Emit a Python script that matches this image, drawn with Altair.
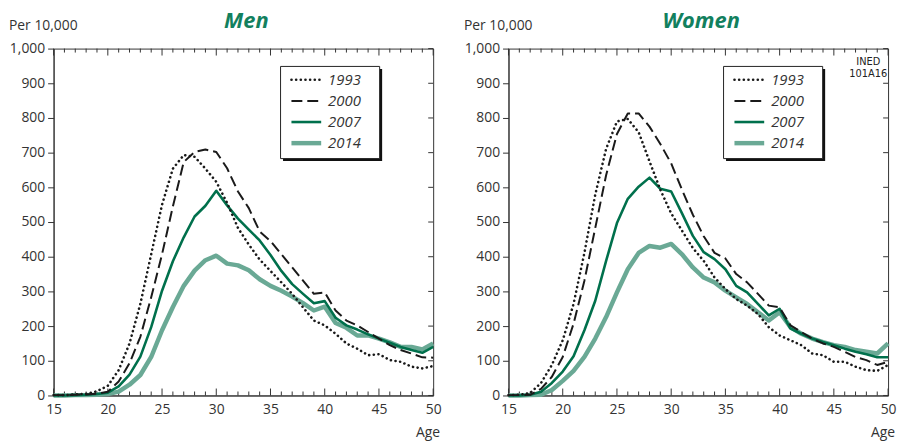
import altair as alt
import pandas as pd

# ---------------- data ----------------
AGES = list(range(15, 51))
YEARS = ["1993", "2000", "2007", "2014"]
PANELS = ["Men", "Women"]
Y_LABEL = "Per 10,000"
X_LABEL = "Age"
NOTE = "INED\n101A16"
X_TICK_LABELS = list(range(15, 51, 5))
Y_TICK_VALUES = list(range(0, 1001, 100))

MEN_1993 = [1, 1, 3, 5, 12, 28, 73, 150, 264, 407, 550, 654, 693, 688, 654, 616, 555, 483,
            435, 392, 359, 326, 293, 254, 216, 202, 178, 150, 135, 116, 119, 102, 97, 83, 78, 85]
MEN_2000 = [1, 1, 2, 3, 5, 11, 40, 93, 169, 283, 407, 545, 673, 702, 709, 702, 655, 588,
            540, 473, 445, 407, 369, 331, 293, 297, 245, 216, 202, 183, 164, 145, 131, 121, 110, 109]
MEN_2007 = [0, 0, 1, 2, 4, 8, 26, 60, 112, 197, 302, 387, 456, 516, 547, 590, 548, 510,
            478, 447, 405, 359, 321, 293, 266, 272, 224, 202, 190, 176, 164, 152, 140, 131, 123, 140]
MEN_2014 = [0, 0, 1, 1, 2, 4, 11, 31, 59, 111, 188, 255, 316, 360, 390, 403, 380, 375,
            361, 335, 316, 302, 285, 266, 245, 256, 209, 195, 173, 173, 164, 153, 140, 140, 133, 150]

WOMEN_1993 = [1, 2, 7, 36, 88, 159, 264, 411, 579, 711, 790, 797, 759, 675, 593, 525, 475, 425,
              388, 340, 307, 278, 259, 235, 197, 173, 159, 145, 121, 116, 97, 97, 83, 73, 71, 88]
WOMEN_2000 = [1, 1, 2, 19, 54, 111, 207, 331, 483, 635, 754, 813, 813, 775, 725, 669, 593, 521,
              459, 411, 395, 350, 326, 293, 259, 254, 202, 183, 164, 150, 140, 126, 111, 102, 88, 97]
WOMEN_2007 = [0, 0, 2, 11, 36, 69, 113, 188, 273, 388, 497, 567, 602, 628, 596, 588, 525, 460,
              413, 393, 364, 316, 297, 264, 231, 250, 193, 178, 164, 154, 145, 135, 126, 119, 110, 110]
WOMEN_2014 = [0, 0, 1, 2, 16, 42, 71, 111, 164, 226, 297, 364, 411, 431, 426, 437, 407, 369,
              340, 326, 302, 283, 264, 240, 216, 240, 197, 178, 164, 154, 145, 140, 131, 126, 121, 150]

SERIES = {
    "Men": {"1993": MEN_1993, "2000": MEN_2000, "2007": MEN_2007, "2014": MEN_2014},
    "Women": {"1993": WOMEN_1993, "2000": WOMEN_2000, "2007": WOMEN_2007, "2014": WOMEN_2014},
}

# ---------------- styles ----------------
W, H = 383, 350
FONT = "Open Sans"
AXIS_COLOR = "#333333"
TITLE_GREEN = "#12805e"
STYLE = {
    "1993": dict(color="#1a1a1a", strokeWidth=2.6, strokeDash=[0.1, 4.6], strokeCap="round"),
    "2000": dict(color="#1a1a1a", strokeWidth=2.0, strokeDash=[11, 5]),
    "2007": dict(color="#00704c", strokeWidth=2.6),
    "2014": dict(color="#6aa995", strokeWidth=4.5),
}
DRAW_ORDER = ["2014", "2007", "2000", "1993"]
LEGEND_X0 = {"Men": 229, "Women": 217}

xs = alt.Scale(domain=[15, 50], nice=False, zero=False)
ys = alt.Scale(domain=[0, 1000], nice=False)
xaxis = alt.Axis(values=X_TICK_LABELS, ticks=False, labelPadding=7, labelFontSize=14,
                 labelColor=AXIS_COLOR, labelFlush=False, grid=False, title=None,
                 domainColor=AXIS_COLOR, labelFont=FONT)
yaxis = alt.Axis(values=Y_TICK_VALUES, format=",d", tickSize=6, tickColor=AXIS_COLOR,
                 labelPadding=3, labelFontSize=14, labelColor=AXIS_COLOR, grid=False,
                 title=None, domainColor=AXIS_COLOR, labelFont=FONT,
                 minExtent=45, maxExtent=45)
X = alt.X("age:Q", scale=xs, axis=xaxis)
Y = alt.Y("rate:Q", scale=ys, axis=yaxis)


def panel(name):
    rows = []
    for yr, vals in SERIES[name].items():
        for a, v in zip(AGES, vals):
            rows.append({"age": a, "year": yr, "rate": v})
    df = pd.DataFrame(rows)
    layers = []

    # inward frame ticks
    tick_df = pd.DataFrame({"age": AGES})
    for top, y0 in ((False, H), (True, 0)):
        sgn = 1 if top else -1
        layers.append(alt.Chart(tick_df).transform_filter("datum.age % 5 != 0")
                      .mark_rule(color=AXIS_COLOR, strokeWidth=1)
                      .encode(x=X, y=alt.value(y0), y2=alt.value(y0 + sgn * 4)))
        layers.append(alt.Chart(tick_df).transform_filter("datum.age % 5 == 0")
                      .mark_rule(color=AXIS_COLOR, strokeWidth=1)
                      .encode(x=X, y=alt.value(y0), y2=alt.value(y0 + sgn * 7)))
    ytick_df = pd.DataFrame({"rate": Y_TICK_VALUES})
    layers.append(alt.Chart(ytick_df).mark_rule(color=AXIS_COLOR, strokeWidth=1)
                  .encode(y=Y, x=alt.value(W), x2=alt.value(W - 5)))

    # data lines
    for yr in DRAW_ORDER:
        layers.append(alt.Chart(df[df.year == yr]).mark_line(strokeJoin="round", **STYLE[yr])
                      .encode(x=X, y=Y))

    # legend
    x0 = LEGEND_X0[name]
    one = pd.DataFrame({"panel": [name]})
    layers.append(alt.Chart(one).mark_rect(fill="#111111")
                  .encode(x=alt.value(x0 + 2.5), x2=alt.value(x0 + 102.5),
                          y=alt.value(20.5), y2=alt.value(113.5)))
    layers.append(alt.Chart(one).mark_rect(fill="white", stroke="#222222", strokeWidth=1)
                  .encode(x=alt.value(x0), x2=alt.value(x0 + 100),
                          y=alt.value(18), y2=alt.value(111)))
    leg_df = pd.DataFrame({"year": YEARS})
    for i, yr in enumerate(YEARS):
        ry = 31.5 + i * 21.3
        sub = alt.Chart(leg_df).transform_filter(f"datum.year == '{yr}'")
        layers.append(sub.mark_rule(**STYLE[yr])
                      .encode(x=alt.value(x0 + 11), x2=alt.value(x0 + 41), y=alt.value(ry)))
        layers.append(sub.mark_text(align="left", baseline="middle", fontSize=15,
                                    fontStyle="italic", color="#333333", font=FONT)
                      .encode(x=alt.value(x0 + 48), y=alt.value(ry), text="year:N"))

    # texts
    layers.append(alt.Chart(one).mark_text(fontSize=22, fontStyle="italic", fontWeight="bold",
                                           color=TITLE_GREEN, align="center",
                                           baseline="alphabetic", font=FONT)
                  .encode(x=alt.value(W / 2 + 3), y=alt.value(-20.5), text="panel:N"))
    lab = pd.DataFrame({"ylab": [Y_LABEL], "xlab": [X_LABEL]})
    layers.append(alt.Chart(lab).mark_text(fontSize=14, align="left", baseline="alphabetic",
                                           color=AXIS_COLOR, font=FONT)
                  .encode(x=alt.value(-45), y=alt.value(-18.7), text="ylab:N"))
    layers.append(alt.Chart(lab).mark_text(fontSize=14, align="right", baseline="alphabetic",
                                           color=AXIS_COLOR, font=FONT)
                  .encode(x=alt.value(W + 7), y=alt.value(H + 42), text="xlab:N"))
    if name == "Women":
        note = pd.DataFrame({"note": [NOTE]})
        layers.append(alt.Chart(note).mark_text(fontSize=11, align="center", baseline="top",
                                                lineBreak="\n", lineHeight=12, color="#222222",
                                                font="DejaVu Sans Condensed, Roboto, sans-serif")
                      .encode(x=alt.value(363), y=alt.value(8), text="note:N"))

    return alt.layer(*layers).properties(width=W, height=H)


chart = (alt.hconcat(panel("Men"), panel("Women"), spacing=21)
         .properties(padding={"left": 0, "top": 0, "right": 0, "bottom": 0})
         .configure(font=FONT)
         .configure_view(stroke=AXIS_COLOR, strokeWidth=1))

chart.save("out.html", embed_options={"renderer": "svg", "actions": False})
